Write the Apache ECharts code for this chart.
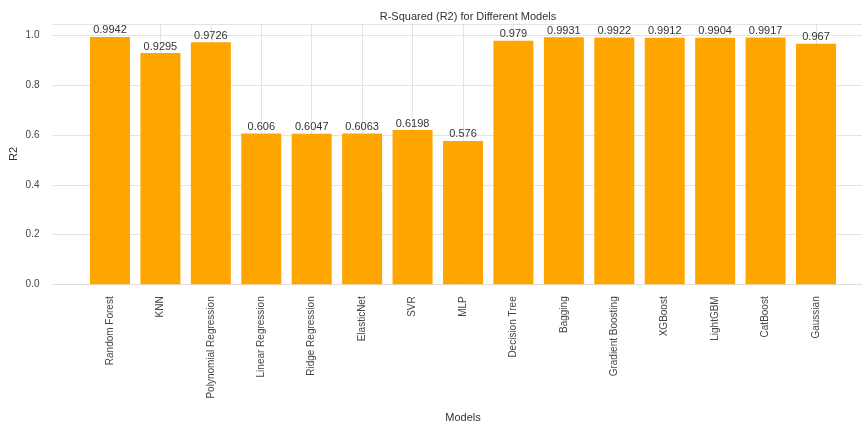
<!DOCTYPE html>
<html>
<head>
<meta charset="utf-8">
<script src="https://cdn.jsdelivr.net/npm/echarts@6/dist/echarts.min.js"></script>
<style>
  html, body { margin: 0; padding: 0; background: #fff; }
  #main { width: 862px; height: 432px; }
</style>
</head>
<body>
<div id="main"></div>
<script>
var models = ['Random Forest', 'KNN', 'Polynomial Regression', 'Linear Regression', 'Ridge Regression',
  'ElasticNet', 'SVR', 'MLP', 'Decision Tree', 'Bagging', 'Gradient Boosting', 'XGBoost',
  'LightGBM', 'CatBoost', 'Gaussian'];
var r2 = [0.9942, 0.9295, 0.9726, 0.606, 0.6047, 0.6063, 0.6198, 0.576, 0.979, 0.9931,
  0.9922, 0.9912, 0.9904, 0.9917, 0.967];
var yTicks = [0, 0.2, 0.4, 0.6, 0.8, 1.0];

var font = '"Liberation Sans", Arial, sans-serif';
var positions = [];
var barData = [];
for (var i = 0; i < models.length; i++) {
  positions.push(i);
  barData.push([i, r2[i]]);
}

var myChart = echarts.init(document.getElementById('main'));
var option = {
  animation: false,
  backgroundColor: '#ffffff',
  title: {
    text: 'R-Squared (R2) for Different Models',
    left: 463,
    top: 6,
    textAlign: 'center',
    textStyle: { fontFamily: font, fontSize: 11, fontWeight: 'normal', color: '#333' }
  },
  // y axis title, placed by hand (axis name kept drifting left)
  graphic: [{
    type: 'text',
    x: 14,
    y: 154,
    rotation: Math.PI / 2,
    style: {
      text: 'R2',
      fontFamily: font,
      fontSize: 11,
      fill: '#333',
      align: 'center',
      verticalAlign: 'middle'
    }
  }],
  grid: {
    left: 52.5,
    right: -11.5,
    top: 24.5,
    bottom: 147.7,
    outerBoundsMode: 'none'
  },
  xAxis: {
    type: 'value',
    min: -1.14,
    max: 15.14,
    name: 'Models',
    nameLocation: 'middle',
    nameGap: 128,
    nameTextStyle: { fontFamily: font, fontSize: 11, color: '#333' },
    axisLine: { show: true, lineStyle: { color: '#dddddd' } },
    axisTick: { show: false, customValues: positions },
    splitLine: { show: true, lineStyle: { color: '#e3e3e3', width: 1 } },
    axisLabel: {
      customValues: positions,
      rotate: 90,
      margin: 12,
      fontFamily: font,
      fontSize: 10,
      color: '#444',
      formatter: function(v) {
        return models[Math.round(v)] || '';
      }
    }
  },
  yAxis: {
    type: 'value',
    min: 0,
    max: 1.044,
    interval: 0.2,
    axisLine: { show: true, lineStyle: { color: '#dddddd' } },
    axisTick: { show: false },
    splitLine: { show: true, lineStyle: { color: '#e3e3e3', width: 1 } },
    axisLabel: {
      margin: 13,
      fontFamily: font,
      fontSize: 10,
      color: '#444',
      showMaxLabel: false,
      formatter: function(v) {
        for (var k = 0; k < yTicks.length; k++) {
          if (Math.abs(v - yTicks[k]) < 1e-6) return yTicks[k].toFixed(1);
        }
        return '';
      }
    }
  },
  series: [{
    type: 'bar',
    data: barData,
    barWidth: 40,
    itemStyle: { color: '#FFA500' },
    label: {
      show: true,
      position: 'top',
      distance: 1,
      fontFamily: font,
      fontSize: 11,
      color: '#333',
      formatter: function(p) {
        return String(p.value[1]);
      }
    }
  }]
};
myChart.setOption(option);
</script>
</body>
</html>
